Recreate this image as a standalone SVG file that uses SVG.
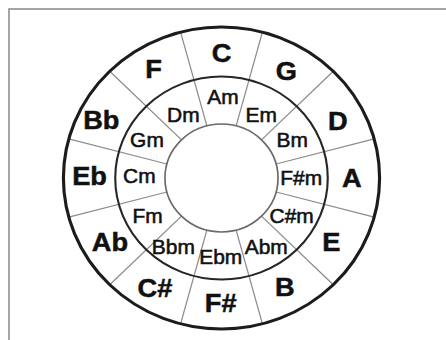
<svg xmlns="http://www.w3.org/2000/svg" width="446" height="340" viewBox="0 0 446 340">
  <style>
    .ring { fill: none; }
    .outer { stroke: #1c1c1c; stroke-width: 3; }
    .middle { stroke: #262626; stroke-width: 2; }
    .inner { stroke: #6a6a6a; stroke-width: 1.6; }
    .div { stroke: #8c8c8c; stroke-width: 1.2; }
    .maj { font-family: "Liberation Sans", Arial, sans-serif; font-weight: bold; font-size: 26px; fill: #111; text-anchor: middle; stroke: #111; stroke-width: 0.5; }
    .min { font-family: "Liberation Sans", Arial, sans-serif; font-size: 20px; fill: #111; text-anchor: middle; stroke: #111; stroke-width: 0.55; }
  </style>
  <rect x="0" y="0" width="446" height="340" fill="#ffffff"/>
  <rect id="frame" x="9" y="9" width="460" height="360" fill="none" stroke="#8f8f8f" stroke-width="1.6"/>
  <g id="wheel" transform="translate(221.5,178) scale(1.047,1)">
    <g id="dividers">
      <line class="div" x1="0" y1="-54" x2="0" y2="-151" transform="rotate(15)"/>
      <line class="div" x1="0" y1="-54" x2="0" y2="-151" transform="rotate(45)"/>
      <line class="div" x1="0" y1="-54" x2="0" y2="-151" transform="rotate(75)"/>
      <line class="div" x1="0" y1="-54" x2="0" y2="-151" transform="rotate(105)"/>
      <line class="div" x1="0" y1="-54" x2="0" y2="-151" transform="rotate(135)"/>
      <line class="div" x1="0" y1="-54" x2="0" y2="-151" transform="rotate(165)"/>
      <line class="div" x1="0" y1="-54" x2="0" y2="-151" transform="rotate(195)"/>
      <line class="div" x1="0" y1="-54" x2="0" y2="-151" transform="rotate(225)"/>
      <line class="div" x1="0" y1="-54" x2="0" y2="-151" transform="rotate(255)"/>
      <line class="div" x1="0" y1="-54" x2="0" y2="-151" transform="rotate(285)"/>
      <line class="div" x1="0" y1="-54" x2="0" y2="-151" transform="rotate(315)"/>
      <line class="div" x1="0" y1="-54" x2="0" y2="-151" transform="rotate(345)"/>
    </g>
    <g id="rings">
      <circle class="ring outer" cx="0" cy="0" r="151"/>
      <circle class="ring middle" cx="0" cy="0" r="101.5"/>
      <circle class="ring inner" cx="0" cy="0" r="54"/>
    </g>
    <g id="major-keys">
      <text class="maj" x="0" y="-116">C</text>
      <text class="maj" x="62" y="-98">G</text>
      <text class="maj" x="111" y="-48">D</text>
      <text class="maj" x="124.4" y="8.7">A</text>
      <text class="maj" x="105" y="72.7">E</text>
      <text class="maj" x="60.6" y="118">B</text>
      <text class="maj" x="-0.8" y="133.7">F#</text>
      <text class="maj" x="-63.5" y="118.7">C#</text>
      <text class="maj" x="-106.5" y="72.7">Ab</text>
      <text class="maj" x="-126" y="7">Eb</text>
      <text class="maj" x="-114.8" y="-48.7">Bb</text>
      <text class="maj" x="-64.8" y="-99.7">F</text>
    </g>
    <g id="minor-keys">
      <text class="min" x="1.4" y="-74.5">Am</text>
      <text class="min" x="38" y="-56.3">Em</text>
      <text class="min" x="67.5" y="-30.7">Bm</text>
      <text class="min" x="76.2" y="7">F#m</text>
      <text class="min" x="67" y="45.3">C#m</text>
      <text class="min" x="42.7" y="76">Abm</text>
      <text class="min" x="-0.7" y="86.5">Ebm</text>
      <text class="min" x="-46" y="76">Bbm</text>
      <text class="min" x="-70.5" y="44.7">Fm</text>
      <text class="min" x="-78.5" y="5.3">Cm</text>
      <text class="min" x="-71.2" y="-30.7">Gm</text>
      <text class="min" x="-36.5" y="-56.3">Dm</text>
    </g>
  </g>
</svg>
